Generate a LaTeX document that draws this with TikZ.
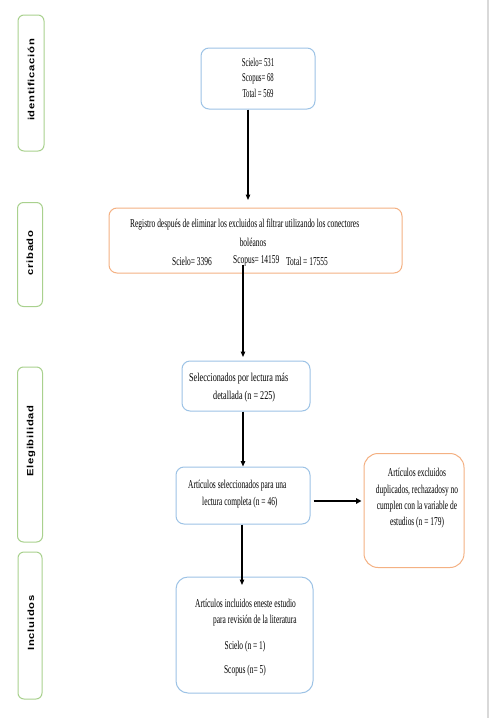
\documentclass[tikz,border=0pt]{standalone}
\usepackage{fontspec}
\setmainfont{Liberation Serif}
\newfontfamily\condA{Liberation Serif}[FakeStretch=0.56]
\newfontfamily\condC{Liberation Serif}[FakeStretch=0.62]
\newfontfamily\condD{Liberation Serif}[FakeStretch=0.68]
\newfontfamily\labfont{Liberation Sans Bold}[FakeStretch=1.25,LetterSpace=8]
\usetikzlibrary{arrows.meta}
\definecolor{bblue}{RGB}{157,195,230}
\definecolor{borange}{RGB}{244,177,131}
\definecolor{bgreen}{RGB}{169,209,142}
\definecolor{edgegray}{RGB}{217,217,217}
\begin{document}
\begin{tikzpicture}[x=1pt,y=-1pt,
  box/.style={draw=#1, line width=1pt, rounded corners=8pt, fill=white, inner sep=0pt},
  labbox/.style={draw=bgreen, line width=1pt, rounded corners=6pt, inner sep=0pt},
  labtxt/.style={rotate=90, inner sep=0pt, font=\labfont\fontsize{9}{10}\selectfont},
  txtA/.style={inner sep=0pt, font=\condA\fontsize{12}{15.5}\selectfont},
  txtC/.style={inner sep=0pt, font=\condC\fontsize{12}{16.3}\selectfont},
  txtD/.style={inner sep=0pt, font=\condD\fontsize{12}{16.3}\selectfont},
  arr/.style={line width=1.1pt, -{Triangle[length=5.5pt,width=4.5pt]}},
  arrh/.style={line width=1.8pt, -{Triangle[length=5.5pt,width=5.5pt]}}]
\useasboundingbox (0,0) rectangle (489,718);
\fill[white] (0,0) rectangle (489,718);
\fill[edgegray] (486.5,0) rectangle (489,718);

% stage labels
\node[labbox, minimum width=26pt, minimum height=136pt] (l1) at (31,83) {};
\node[labtxt] (l1t) at (31,80) {identificación};
\node[labbox, minimum width=25pt, minimum height=104pt] (l2) at (30,254.5) {};
\node[labtxt] (l2t) at (30,253) {cribado};
\node[labbox, minimum width=25pt, minimum height=175pt] (l3) at (30,454.5) {};
\node[labtxt] (l3t) at (31,441) {Elegibilidad};
\node[labbox, minimum width=24pt, minimum height=147pt] (l4) at (30,625.5) {};
\node[labtxt] (l4t) at (31,623) {Incluidos};

% boxes
\node[box=bblue, minimum width=114pt, minimum height=61pt] (b1) at (258,78.5) {};
\node[txtA, align=center] (b1t) at (258,77.5) {Scielo= 531\\Scopus= 68\\Total = 569};

\node[box=borange, minimum width=293pt, minimum height=65pt] (b2) at (255.5,240.5) {};
\node[txtC, anchor=west] (b2a) at (130,225) {Registro después de eliminar los excluidos al filtrar utilizando los conectores};
\node[txtC] (b2b) at (253,242) {boléanos};
\node[txtC, anchor=west] (b2c) at (172,261) {Scielo= 3396};
\node[txtC, anchor=west] (b2d) at (233,261) {Scopus= 14159};
\node[txtC, anchor=west] (b2e) at (286,261) {Total = 17555};

\node[box=bblue, minimum width=128pt, minimum height=50pt] (b3) at (246,386) {};
\node[txtD, anchor=west] (b3a) at (189,379) {Seleccionados por lectura más};
\node[txtD, anchor=west] (b3b) at (213,397) {detallada (n = 225)};

\node[box=bblue, minimum width=134pt, minimum height=57pt] (b4) at (243,495.5) {};
\node[txtC, anchor=west] (b4a) at (188,486) {Artículos seleccionados para una};
\node[txtC, anchor=west] (b4b) at (202,503) {lectura completa (n = 46)};

\node[box=borange, rounded corners=14pt, minimum width=100pt, minimum height=114pt] (b5) at (414,510.5) {};
\node[txtC, align=center] (b5t) at (417,498.5) {Artículos excluidos\\duplicados, rechazadosy no\\cumplen con la variable de\\estudios (n = 179)};

\node[box=bblue, rounded corners=12pt, minimum width=137pt, minimum height=116pt] (b6) at (244.5,635) {};
\node[txtC, anchor=west] (b6a) at (195,603) {Artículos incluidos eneste estudio};
\node[txtC, anchor=west] (b6b) at (213,621) {para revisión de la literatura};
\node[txtC] (b6c) at (245,647) {Scielo (n = 1)};
\node[txtC] (b6d) at (245,671) {Scopus (n= 5)};

% connectors
\coordinate (e1) at (248,200);
\draw[arr] (b1.south -| e1) -- (e1);
\coordinate (e2) at (243,357);
\draw[arr] ([yshift=9pt]b2.south -| e2) -- (e2);
\draw[arr] (b4.north |- b3.south) -- (b4.north);
\coordinate (h) at (0,501);
\draw[arrh] ([xshift=3pt]b4.east |- h) -- ([xshift=-2pt]b5.west |- h);
\coordinate (e4) at (242,585);
\draw[arr] (b4.south -| e4) -- (e4);
\end{tikzpicture}
\end{document}
